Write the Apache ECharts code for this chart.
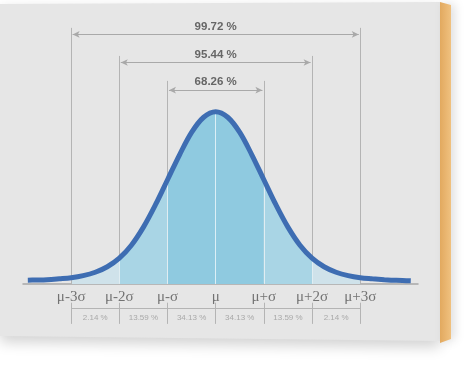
<!DOCTYPE html>
<html>
<head>
<meta charset="utf-8">
<script src="https://cdn.jsdelivr.net/npm/echarts@6/dist/echarts.min.js"></script>
<style>
html,body{margin:0;padding:0;background:#ffffff;}
#c{width:474px;height:367px;}
</style>
</head>
<body>
<div id="c"></div>
<script>
// ---- data ----
const curveX = [-3.9, -3.75, -3.5, -3.25, -3, -2.75, -2.5, -2.25, -2, -1.75, -1.5, -1.25, -1, -0.75, -0.5, -0.25, 0,
                0.25, 0.5, 0.75, 1, 1.25, 1.5, 1.75, 2, 2.25, 2.5, 2.75, 3, 3.25, 3.5, 3.75, 4.05];
const curveY = [0.022, 0.023, 0.025, 0.03, 0.036, 0.048, 0.068, 0.1, 0.15, 0.225, 0.33, 0.46, 0.605, 0.75, 0.88, 0.968, 1.0,
                0.968, 0.88, 0.75, 0.605, 0.46, 0.33, 0.225, 0.15, 0.1, 0.068, 0.048, 0.036, 0.03, 0.025, 0.021, 0.018];
const sigmaPos = [-3, -2, -1, 0, 1, 2, 3];
const tickLabels = ['μ-3σ', 'μ-2σ', 'μ-σ', 'μ', 'μ+σ', 'μ+2σ', 'μ+3σ'];
const bandPct = ['2.14 %', '13.59 %', '34.13 %', '34.13 %', '13.59 %', '2.14 %'];
const rangeLabels = ['99.72 %', '95.44 %', '68.26 %'];
const rangeK = [3, 2, 1];
const rangeArrowY = [1.449, 1.286, 1.125];
const guideTopY = [1.487, 1.324, 1.179];
const tickLabelY = -0.078;
const bracketY = -0.143, bracketTickTop = -0.109, bracketTickBottom = -0.232, pctLabelY = -0.197;

// ---- build options ----
const curve = curveX.map((x, i) => [x, curveY[i]]);
const yAt = x => curveY[curveX.indexOf(x)];

const regions = [
  { a: -3, b: -2, color: '#cfe2ea' },
  { a: -2, b: -1, color: '#a9d5e5' },
  { a: -1, b: 1, color: '#8fcae0' },
  { a: 1, b: 2, color: '#a9d5e5' },
  { a: 2, b: 3, color: '#cfe2ea' }
];

const regionSeries = regions.map(r => ({
  type: 'line',
  data: curve.filter(p => p[0] >= r.a && p[0] <= r.b),
  smooth: 0.35,
  symbol: 'none',
  lineStyle: { width: 0 },
  areaStyle: { color: r.color, opacity: 1 },
  z: 2,
  silent: true
}));

const grayGuides = [];
rangeK.forEach((k, i) => {
  [-k, k].forEach(x => grayGuides.push([{ coord: [x, 0] }, { coord: [x, guideTopY[i]] }]));
});
const whiteGuides = [-2, -1, 0, 1, 2].map(x => [{ coord: [x, 0] }, { coord: [x, yAt(x) - 0.01] }]);

const arrows = rangeK.map((k, i) => [
  { coord: [-k + 0.03, rangeArrowY[i]], label: { formatter: rangeLabels[i] } },
  { coord: [k - 0.03, rangeArrowY[i]] }
]);

const bracketLines = [[{ coord: [-3, bracketY] }, { coord: [3, bracketY] }]]
  .concat(sigmaPos.map(x => [{ coord: [x, bracketTickTop] }, { coord: [x, bracketTickBottom] }]));

const pctPoints = bandPct.map((t, i) => ({ value: [(sigmaPos[i] + sigmaPos[i + 1]) / 2, pctLabelY], name: t }));
const tickPoints = tickLabels.map((t, i) => ({ value: [sigmaPos[i], tickLabelY], name: t }));

const chart = echarts.init(document.getElementById('c'), null, { renderer: 'canvas' });
chart.setOption({
  animation: false,
  backgroundColor: '#ffffff',
  graphic: [
    {
      type: 'polygon', z: -20,
      shape: { points: [[0, 4], [440, 2], [440, 341], [0, 336]] },
      style: { fill: '#e6e6e6', shadowBlur: 14, shadowColor: 'rgba(0,0,0,0.18)', shadowOffsetY: 6 }
    },
    {
      type: 'polygon', z: -19,
      shape: { points: [[440, 2], [451, 5], [451, 339], [440, 343]] },
      style: {
        fill: { type: 'linear', x: 0, y: 0, x2: 1, y2: 0,
          colorStops: [{ offset: 0, color: '#e2a95f' }, { offset: 1, color: '#f0c17f' }] },
        shadowBlur: 10, shadowColor: 'rgba(0,0,0,0.12)', shadowOffsetX: 4
      }
    }
  ],
  grid: { left: 23, right: 56, top: 17, bottom: 40 },
  xAxis: {
    type: 'value', min: -4, max: 4.2, interval: 1,
    axisLine: { onZero: true, lineStyle: { color: '#a8a8a8', width: 1.5 } },
    axisTick: { show: false },
    splitLine: { show: false },
    axisLabel: { show: false }
  },
  yAxis: {
    type: 'value', min: -0.25, max: 1.55, show: true,
    axisLine: { show: false }, axisTick: { show: false },
    axisLabel: { show: false }, splitLine: { show: false }
  },
  series: [
    {
      type: 'line', data: [], z: 1, silent: true,
      markLine: {
        silent: true, symbol: ['none', 'none'],
        lineStyle: { color: '#b4b4b4', width: 1, type: 'solid' },
        label: { show: false },
        data: grayGuides.concat(bracketLines)
      }
    },
    ...regionSeries,
    {
      type: 'line', data: [], z: 3, silent: true,
      markLine: {
        silent: true, symbol: ['none', 'none'],
        lineStyle: { color: '#e4f3f8', width: 1, type: 'solid', opacity: 0.9 },
        label: { show: false },
        data: whiteGuides
      }
    },
    {
      type: 'line', data: [], z: 3, silent: true,
      markLine: {
        silent: true, symbol: ['arrow', 'arrow'], symbolSize: [5, 7],
        lineStyle: { color: '#a9a9a9', width: 1.2, type: 'solid' },
        label: {
          show: true, position: 'insideMiddleTop', distance: 2,
          color: '#666666', fontSize: 11.5, fontWeight: 'bold', fontFamily: 'Liberation Sans'
        },
        data: arrows
      }
    },
    {
      type: 'line', data: curve, smooth: 0.35, symbol: 'none', z: 5,
      lineStyle: { color: '#3e6db2', width: 5 },
      silent: true
    },
    {
      type: 'scatter', data: tickPoints, symbolSize: 1, z: 6, silent: true,
      itemStyle: { color: 'rgba(0,0,0,0)' },
      label: {
        show: true, position: 'inside', formatter: p => p.name,
        color: '#555555', fontSize: 15, fontFamily: 'Liberation Serif'
      }
    },
    {
      type: 'scatter', data: pctPoints, symbolSize: 1, z: 6, silent: true,
      itemStyle: { color: 'rgba(0,0,0,0)' },
      label: {
        show: true, position: 'inside', formatter: p => p.name,
        color: '#999999', fontSize: 8, fontFamily: 'Liberation Sans'
      }
    }
  ]
});
</script>
</body>
</html>
